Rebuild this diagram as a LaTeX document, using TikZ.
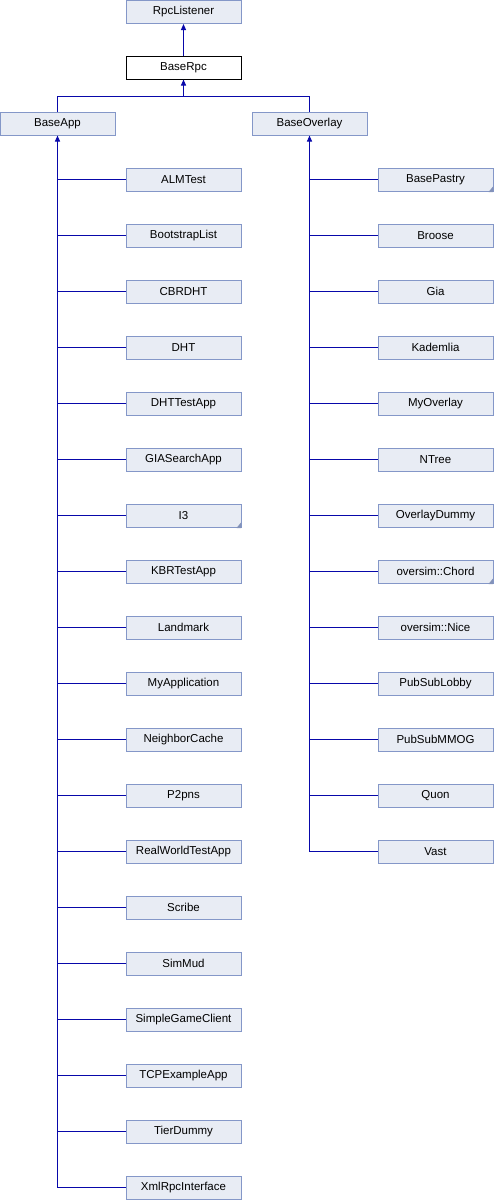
\documentclass[tikz,border=0pt]{standalone}
\usepackage{fontspec}
\setmainfont{Liberation Sans}
\usetikzlibrary{arrows.meta}

\definecolor{boxfill}{RGB}{232,236,244}
\definecolor{boxline}{RGB}{132,151,200}
\definecolor{edgeblue}{RGB}{8,8,170}

\begin{document}
\begin{tikzpicture}[x=1pt, y=-1pt, >={Triangle[length=6pt,width=5pt]},
    cls/.style={draw=boxline, fill=boxfill, line width=1pt, minimum width=115pt,
      minimum height=23pt, inner sep=0pt, font=\fontsize{11.5}{13}\selectfont},
    cur/.style={cls, draw=black, fill=white},
    edge/.style={draw=edgeblue, line width=1pt},
    more/.style={fill=boxline!80!gray}]
  \useasboundingbox (0,0) rectangle (494,1200);

  % Basisklassen
  \node[cls] (rpclistener) at (183.5,12) {RpcListener};
  \node[cur] (baserpc) at (183.5,67.5) {BaseRpc};
  \node[cls] (baseapp) at (57.5,123.5) {BaseApp};
  \node[cls] (baseoverlay) at (309.5,123.5) {BaseOverlay};
  \coordinate (split) at (183.5,96.5);

  \draw[edge,<-] (rpclistener) -- (baserpc);
  \draw[edge,<-] (baserpc.south) -- (split);
  \draw[edge] (split) -| (baseapp.north);
  \draw[edge] (split) -| (baseoverlay.north);

  % Applikationen
  \foreach \nm/\txt [count=\i from 0] in {almtest/ALMTest, bootstraplist/BootstrapList,
      cbrdht/CBRDHT, dht/DHT, dhttestapp/DHTTestApp, giasearchapp/GIASearchApp, ithree/I3,
      kbrtestapp/KBRTestApp, landmark/Landmark, myapplication/MyApplication,
      neighborcache/NeighborCache, ptwopns/P2pns, realworldtestapp/RealWorldTestApp,
      scribe/Scribe, simmud/SimMud, simplegameclient/SimpleGameClient,
      tcpexampleapp/TCPExampleApp, tierdummy/TierDummy, xmlrpcinterface/XmlRpcInterface} {
    \node[cls] (\nm) at (183.5,179.5+56*\i) {\txt};
    \draw[edge] (\nm.west) -- (\nm.west -| baseapp.south);
  }
  \draw[edge,<-] (baseapp.south) |- (xmlrpcinterface.west);

  % Overlays
  \foreach \nm/\txt [count=\i from 0] in {basepastry/BasePastry, broose/Broose, gia/Gia,
      kademlia/Kademlia, myoverlay/MyOverlay, ntree/NTree, overlaydummy/OverlayDummy,
      ochord/oversim::Chord, onice/oversim::Nice, pubsublobby/PubSubLobby,
      pubsubmmog/PubSubMMOG, quon/Quon, vast/Vast} {
    \node[cls] (\nm) at (435.5,179.5+56*\i) {\txt};
    \draw[edge] (\nm.west) -- (\nm.west -| baseoverlay.south);
  }
  \draw[edge,<-] (baseoverlay.south) |- (vast.west);

  % weitere Unterklassen
  \foreach \nm in {ithree, basepastry, ochord}
    \fill[more] ([xshift=-5pt,yshift=-0.5pt]\nm.south east) -- ([xshift=-0.5pt,yshift=-0.5pt]\nm.south east)
      -- ([xshift=-0.5pt,yshift=5pt]\nm.south east) -- cycle;
\end{tikzpicture}
\end{document}
